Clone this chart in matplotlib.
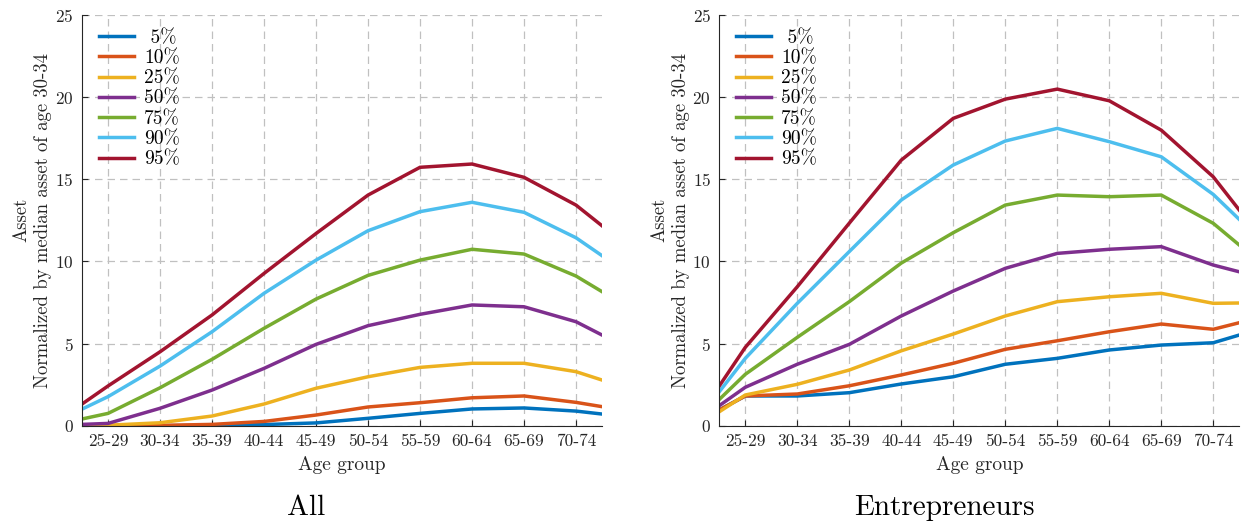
import numpy as np
import matplotlib
matplotlib.use('Agg')
import matplotlib.pyplot as plt

# age groups (x ticks); the curves also have a point at each axis edge
age_groups = ['25-29', '30-34', '35-39', '40-44', '45-49',
              '50-54', '55-59', '60-64', '65-69', '70-74']
pct_labels = [' 5%', '10%', '25%', '50%', '75%', '90%', '95%']

# All households: values at [left edge, 25-29 ... 70-74, right edge]
all_p5 = [0.0, 0.0, 0.0, 0.02, 0.07, 0.17, 0.45, 0.75, 1.02, 1.08, 0.89, 0.71]
all_p10 = [0.0, 0.0, 0.02, 0.08, 0.26, 0.65, 1.14, 1.40, 1.70, 1.81, 1.42, 1.16]
all_p25 = [0.0, 0.03, 0.18, 0.59, 1.32, 2.28, 2.98, 3.55, 3.80, 3.80, 3.29, 2.78]
all_p50 = [0.08, 0.14, 1.06, 2.17, 3.49, 4.95, 6.09, 6.78, 7.35, 7.24, 6.33, 5.52]
all_p75 = [0.41, 0.75, 2.31, 4.04, 5.93, 7.71, 9.15, 10.08, 10.74, 10.45, 9.11, 8.16]
all_p90 = [1.01, 1.77, 3.63, 5.72, 8.06, 10.08, 11.87, 13.03, 13.60, 12.99, 11.44, 10.35]
all_p95 = [1.32, 2.42, 4.50, 6.74, 9.27, 11.70, 14.04, 15.73, 15.93, 15.12, 13.43, 12.17]

# Entrepreneurs
ent_p5 = [0.96, 1.81, 1.81, 2.01, 2.54, 2.98, 3.74, 4.10, 4.61, 4.91, 5.05, 5.52]
ent_p10 = [0.96, 1.81, 1.93, 2.43, 3.09, 3.80, 4.65, 5.17, 5.72, 6.19, 5.87, 6.27]
ent_p25 = [0.85, 1.87, 2.52, 3.39, 4.56, 5.58, 6.68, 7.55, 7.85, 8.06, 7.45, 7.47]
ent_p50 = [1.22, 2.34, 3.74, 4.95, 6.68, 8.20, 9.58, 10.49, 10.74, 10.90, 9.78, 9.37]
ent_p75 = [1.60, 3.13, 5.38, 7.55, 9.90, 11.75, 13.43, 14.04, 13.94, 14.04, 12.32, 11.00]
ent_p90 = [2.07, 4.10, 7.45, 10.60, 13.74, 15.87, 17.33, 18.10, 17.29, 16.37, 14.08, 12.56]
ent_p95 = [2.42, 4.77, 8.46, 12.33, 16.17, 18.71, 19.88, 20.49, 19.78, 17.99, 15.15, 13.13]

colors = ['#0072BD', '#D95319', '#EDB120', '#7E2F8E', '#77AC30', '#4DBEEE', '#A2142F']

plt.rcParams['font.family'] = 'serif'
plt.rcParams['font.serif'] = ['cmr10']
plt.rcParams['mathtext.fontset'] = 'cm'
plt.rcParams['axes.formatter.use_mathtext'] = True

xt = np.arange(1, len(age_groups) + 1)
x = np.concatenate([[0.5], xt, [10.5]])

fig = plt.figure(figsize=(12.49, 5.27), dpi=100)
ax1 = fig.add_axes([0.0657, 0.1922, 0.4163, 0.7793])
ax2 = fig.add_axes([0.5759, 0.1922, 0.4163, 0.7793])

panels = [
    (ax1, [all_p5, all_p10, all_p25, all_p50, all_p75, all_p90, all_p95], 'All', 306),
    (ax2, [ent_p5, ent_p10, ent_p25, ent_p50, ent_p75, ent_p90, ent_p95], 'Entrepreneurs', 944),
]

axcol = '#262626'
for ax, series, title, tx in panels:
    for vals, c, lab in zip(series, colors, pct_labels):
        ax.plot(x, vals, color=c, lw=2.5, label=lab, solid_joinstyle='miter')
    ax.set_xlim(0.5, 10.5)
    ax.set_ylim(0, 25)
    ax.set_xticks(xt)
    ax.set_xticklabels(age_groups)
    ax.set_yticks([0, 5, 10, 15, 20, 25])
    ax.grid(True, color='#c0c0c0', linestyle=(0, (6, 4)), linewidth=0.9)
    ax.set_axisbelow(True)
    for s in ['top', 'right']:
        ax.spines[s].set_visible(False)
    for s in ['left', 'bottom']:
        ax.spines[s].set_color(axcol)
        ax.spines[s].set_linewidth(0.8)
    ax.tick_params(direction='in', length=4, width=0.8, colors=axcol,
                   labelsize=12.5, pad=6)
    ax.set_xlabel('Age group', fontsize=14, color=axcol, labelpad=5)
    ax.set_ylabel('Asset\nNormalized by median asset of age 30-34',
                  fontsize=13.5, color=axcol, labelpad=2, linespacing=1.25)
    ax.legend(loc='upper left', frameon=False, fontsize=14, handlelength=1.8,
              labelspacing=0.12, borderaxespad=0.0, handletextpad=0.5,
              bbox_to_anchor=(0.018, 0.985))
    fig.text(tx / 1249, 1 - 508 / 527, title, ha='center', va='center',
             fontsize=21, color='black')

fig.savefig('out.png', dpi=100)
